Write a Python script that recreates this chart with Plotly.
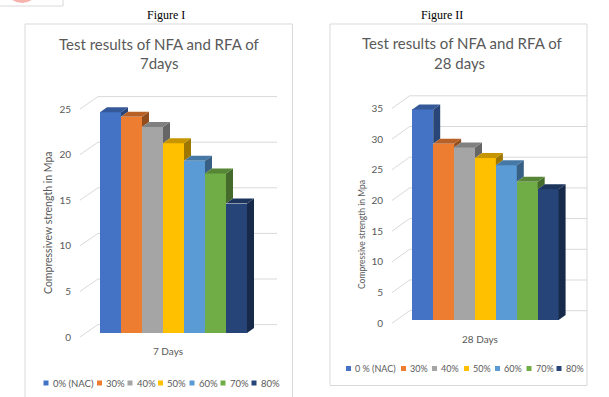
import plotly.graph_objects as go

# ---------------- data ----------------
series_left = ["0% (NAC)", "30%", "40%", "50%", "60%", "70%", "80%"]
series_right = ["0 % (NAC)", "30%", "40%", "50%", "60%", "70%", "80%"]
values_7days = [24.2, 23.7, 22.6, 20.8, 18.9, 17.5, 14.2]
values_28days = [34.3, 28.7, 28.1, 26.4, 25.2, 22.5, 21.3]
yticks_left = [0, 5, 10, 15, 20, 25]
yticks_right = [0, 5, 10, 15, 20, 25, 30, 35]
category_left = "7 Days"
category_right = "28 Days"
colors = ["#4472C4", "#ED7D31", "#A5A5A5", "#FFC000", "#5B9BD5", "#70AD47", "#264478"]

W, H = 609, 397
FONT = "Lato"
GRAY = "#595959"


def fx(px):
    return px / W


def fy(py):
    return 1 - py / H


def shade(hexc, f):
    hexc = hexc.lstrip("#")
    r, g, b = (int(hexc[i:i + 2], 16) for i in (0, 2, 4))
    return "#%02x%02x%02x" % (int(r * f), int(g * f), int(b * f))


fig = go.Figure()
shapes = []

# chart geometry (pixels)
charts = [
    dict(xa="x", ya="y", vals=values_7days, names=series_left, ticks=yticks_left,
         x0px=80, x1px=290, y0lab=337.0, ppu=9.12, ytop=90, ybot=345,
         bar_left=20, bar_w=21, base_px=4.0, depth=(7, 5), back=(18, 12.4),
         grid_end=197),
    dict(xa="x2", ya="y2", vals=values_28days, names=series_right, ticks=yticks_right,
         x0px=392, x1px=600, y0lab=323.3, ppu=6.14, ytop=90, ybot=335,
         bar_left=20.3, bar_w=20.9, base_px=3.3, depth=(7, 5), back=(17.6, 12.6),
         grid_end=195),
]

for c in charts:
    ppu = c["ppu"]
    # back-wall gridlines with floor diagonal (drawn below the bars)
    for v in c["ticks"]:
        bdy = c["back"][1] / ppu
        path = "M 0,{a} L {bx},{b} L {ex},{b}".format(a=v, bx=c["back"][0], b=v + bdy, ex=c["grid_end"])
        shapes.append(dict(type="path", path=path, xref=c["xa"], yref=c["ya"],
                           line=dict(color="#D9D9D9", width=1), layer="below"))
    base = c["base_px"] / ppu
    ddx, ddy = c["depth"][0], c["depth"][1] / ppu
    n = len(c["vals"])
    for i, (v, name) in enumerate(zip(c["vals"], c["names"])):
        xl = c["bar_left"] + i * c["bar_w"]
        fig.add_trace(go.Bar(
            x=[xl + c["bar_w"] / 2], y=[v], base=[base], width=[c["bar_w"]],
            marker=dict(color=colors[i], line=dict(width=0)), name=name,
            showlegend=False, xaxis=c["xa"], yaxis=c["ya"]))
    for i, v in enumerate(c["vals"]):
        xl = c["bar_left"] + i * c["bar_w"]
        xr = xl + c["bar_w"]
        top = base + v
        nxt = base + c["vals"][i + 1] if i + 1 < n else base
        # side face (visible part)
        fig.add_trace(go.Scatter(
            x=[xr, xr, xr + ddx, xr + ddx, xr], y=[nxt, top, top + ddy, nxt + ddy, nxt],
            mode="lines", fill="toself", fillcolor=shade(colors[i], 0.62),
            line=dict(width=0, color=shade(colors[i], 0.62)), hoverinfo="skip",
            showlegend=False, xaxis=c["xa"], yaxis=c["ya"]))
        # top face
        fig.add_trace(go.Scatter(
            x=[xl, xr, xr + ddx, xl + ddx, xl], y=[top, top, top + ddy, top + ddy, top],
            mode="lines", fill="toself", fillcolor=shade(colors[i], 0.78),
            line=dict(width=0, color=shade(colors[i], 0.78)), hoverinfo="skip",
            showlegend=False, xaxis=c["xa"], yaxis=c["ya"]))

axis_common = dict(showgrid=False, zeroline=False, showline=False, fixedrange=True)
lc, rc = charts
fig.update_layout(
    width=W, height=H, margin=dict(l=0, r=0, t=0, b=0),
    paper_bgcolor="white", plot_bgcolor="rgba(0,0,0,0)",
    barmode="overlay", bargap=0, showlegend=False,
    font=dict(family=FONT, color=GRAY),
    xaxis=dict(domain=[fx(lc["x0px"]), fx(lc["x1px"])], range=[0, lc["x1px"] - lc["x0px"]],
               visible=False, **axis_common),
    yaxis=dict(domain=[fy(lc["ybot"]), fy(lc["ytop"])],
               range=[(lc["y0lab"] - lc["ybot"]) / lc["ppu"], (lc["y0lab"] - lc["ytop"]) / lc["ppu"]],
               tickvals=yticks_left, ticks="", ticklabelstandoff=8,
               tickfont=dict(size=10, color=GRAY, family=FONT), anchor="x", **axis_common),
    xaxis2=dict(domain=[fx(rc["x0px"]), fx(rc["x1px"])], range=[0, rc["x1px"] - rc["x0px"]],
                visible=False, anchor="y2", **axis_common),
    yaxis2=dict(domain=[fy(rc["ybot"]), fy(rc["ytop"])],
                range=[(rc["y0lab"] - rc["ybot"]) / rc["ppu"], (rc["y0lab"] - rc["ytop"]) / rc["ppu"]],
                tickvals=yticks_right, ticks="", ticklabelstandoff=8,
                tickfont=dict(size=10, color=GRAY, family=FONT), anchor="x2", **axis_common),
)

shapes += [
    # chart frames
    dict(type="rect", xref="paper", yref="paper", x0=fx(25), x1=fx(292.5), y0=fy(400), y1=fy(24),
         line=dict(color="#D9D9D9", width=1), fillcolor="rgba(0,0,0,0)", layer="below"),
    dict(type="rect", xref="paper", yref="paper", x0=fx(330), x1=fx(587), y0=fy(385.5), y1=fy(24),
         line=dict(color="#D9D9D9", width=1), fillcolor="rgba(0,0,0,0)", layer="below"),
    # top-left cropped decoration
    dict(type="rect", xref="paper", yref="paper", x0=fx(-5), x1=fx(63), y0=fy(6), y1=fy(-5),
         line=dict(color="#D9D9D9", width=1), fillcolor="rgba(0,0,0,0)"),
    dict(type="circle", xref="paper", yref="paper", x0=fx(6), x1=fx(38), y0=fy(3), y1=fy(-26),
         line=dict(width=0), fillcolor="#F6B3AE"),
]

annotations = []


def ann(text, x, y, size, color=GRAY, family=FONT, angle=0, xanchor="center"):
    annotations.append(dict(text=text, x=fx(x), y=fy(y), xref="paper", yref="paper",
                            showarrow=False, font=dict(size=size, color=color, family=family),
                            textangle=angle, xanchor=xanchor, yanchor="middle"))


ann("Figure I", 166, 15, 12, color="#000000", family="Liberation Serif")
ann("Figure II", 442, 15, 12, color="#000000", family="Liberation Serif")
ann("Test results of NFA and RFA of", 159, 44, 15)
ann("7days", 159, 63, 15)
ann("Test results of NFA and RFA of", 462, 43, 15)
ann("28 days", 459, 63, 15)
ann("Compressivew strength in Mpa", 48, 223, 10.5, angle=-90)
ann("Compressive strength in Mpa", 362, 235, 8.5, angle=-90)
ann(category_left, 168, 351, 10)
ann(category_right, 480, 339, 10)

# legends
leg_left_x = [43.5, 97, 127.5, 158, 189.5, 220.5, 251.5]
leg_right_x = [346, 401, 432, 464, 495, 526.5, 556.5]
for xs, names, yc, fs in ((leg_left_x, series_left, 383, 9.5), (leg_right_x, series_right, 368.5, 9)):
    for i, (x, name) in enumerate(zip(xs, names)):
        shapes.append(dict(type="rect", xref="paper", yref="paper", x0=fx(x), x1=fx(x + 5),
                           y0=fy(yc + 2.5), y1=fy(yc - 2.5), line=dict(width=0),
                           fillcolor=colors[i]))
        ann(name, x + 7, yc, fs, xanchor="left")

fig.update_layout(shapes=shapes, annotations=annotations)
fig.write_html("out.html", config={"displayModeBar": False},
               post_script="document.body.style.margin='0';document.body.style.overflow='hidden';")
